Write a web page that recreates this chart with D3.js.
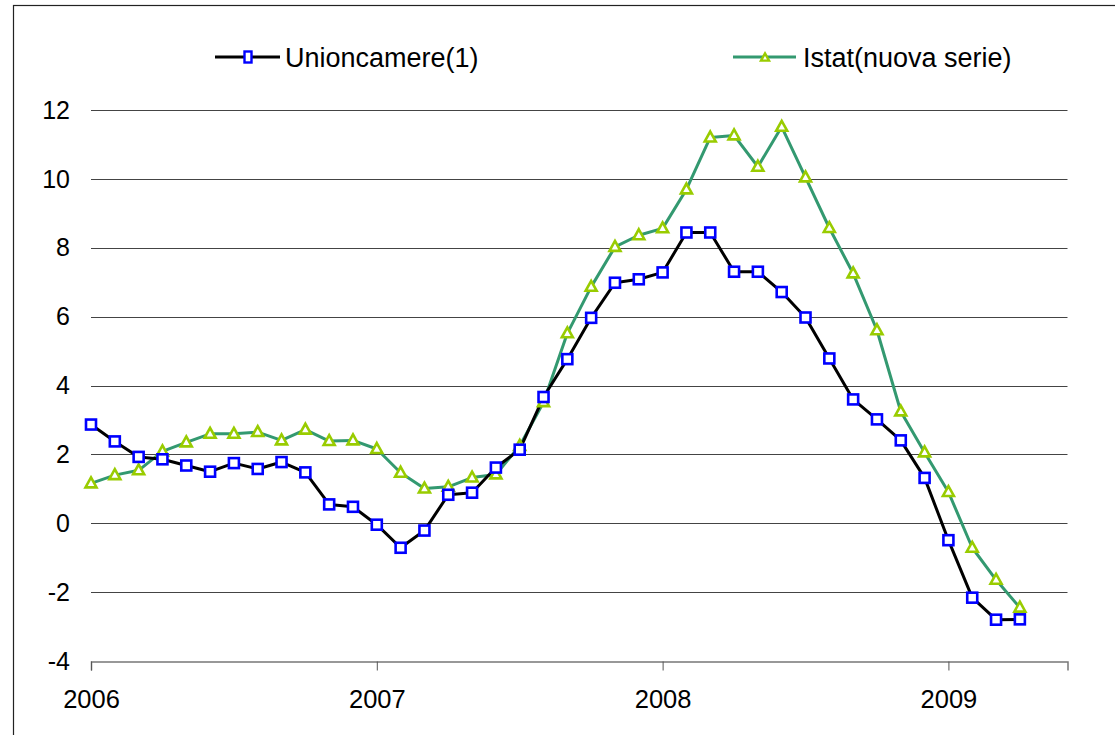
<!DOCTYPE html>
<html>
<head>
<meta charset="utf-8">
<script src="https://cdn.jsdelivr.net/npm/d3@7"></script>
<style>
  body { margin: 0; background: #fff; }
  svg { display: block; }
</style>
</head>
<body>
<div id="chart"></div>
<script>
// monthly series, Jan 2006 .. Apr 2009
const startYear = 2006;
const unioncamere = [2.87, 2.38, 1.93, 1.86, 1.68, 1.50, 1.75, 1.58, 1.78, 1.48,
  0.55, 0.48, -0.04, -0.71, -0.21, 0.83, 0.89, 1.62, 2.14, 3.67,
  4.77, 5.97, 6.99, 7.09, 7.29, 8.45, 8.45, 7.31, 7.31, 6.72,
  5.98, 4.79, 3.60, 3.02, 2.41, 1.32, -0.49, -2.16, -2.80, -2.79];
const istat = [1.16, 1.40, 1.54, 2.09, 2.35, 2.60, 2.60, 2.65, 2.41, 2.72,
  2.39, 2.41, 2.16, 1.47, 1.01, 1.06, 1.33, 1.42, 2.25, 3.52,
  5.52, 6.87, 8.03, 8.37, 8.57, 9.70, 11.21, 11.27, 10.36, 11.52,
  10.05, 8.58, 7.26, 5.61, 3.25, 2.06, 0.91, -0.71, -1.64, -2.45];
const yTicks = [-4, -2, 0, 2, 4, 6, 8, 10, 12];
const yearTicks = [2006, 2007, 2008, 2009];
const seriesNames = ['Unioncamere(1)', 'Istat(nuova serie)'];

const W = 1115, H = 735;
const FONT = 'Arial, "Liberation Sans", Helvetica, sans-serif';

const svg = d3.select('#chart').append('svg')
  .attr('width', W).attr('height', H);

svg.append('rect')
  .attr('width', W).attr('height', H).attr('fill', '#fff');

// outer frame (runs off right/bottom edge)
svg.append('rect')
  .attr('x', 13.5).attr('y', 5.5)
  .attr('width', W + 10).attr('height', H + 10)
  .attr('fill', 'none').attr('stroke', '#222').attr('stroke-width', 1.2);

const x = d3.scaleLinear().domain([0, 41]).range([91, 1067.5]);
const y = d3.scaleLinear().domain([-4, 12]).range([661, 110.3]);

// grid lines
svg.append('g')
  .selectAll('line')
  .data(yTicks.filter(d => d !== -4))
  .join('line')
  .attr('x1', x(0)).attr('x2', x(41))
  .attr('y1', d => Math.round(y(d)) + 0.5).attr('y2', d => Math.round(y(d)) + 0.5)
  .attr('stroke', '#444').attr('stroke-width', 1);

// y labels
svg.append('g')
  .selectAll('text')
  .data(yTicks)
  .join('text')
  .attr('x', 70).attr('y', d => y(d) + 8.5)
  .attr('text-anchor', 'end')
  .attr('font-family', FONT).attr('font-size', 25)
  .attr('fill', '#000')
  .text(d => d);

// x axis at -4
const xAxis = d3.axisBottom(x)
  .tickValues(yearTicks.map(yr => (yr - startYear) * 12))
  .tickSize(9)
  .tickPadding(19)
  .tickFormat(m => startYear + m / 12);

const gx = svg.append('g')
  .attr('transform', `translate(0,${Math.round(y(-4)) + 0.5})`)
  .call(xAxis);
gx.select('.domain').attr('stroke', '#777').attr('stroke-width', 1.5);
gx.selectAll('.tick line').attr('stroke', '#555');
gx.selectAll('.tick text')
  .attr('font-family', FONT).attr('font-size', 25.5).attr('fill', '#000');

const line = d3.line()
  .x((d, i) => x(i))
  .y(d => y(d));

// Istat series
svg.append('path')
  .datum(istat)
  .attr('d', line)
  .attr('fill', 'none').attr('stroke', '#339970').attr('stroke-width', 3)
  .attr('stroke-linejoin', 'round');

// Unioncamere series
svg.append('path')
  .datum(unioncamere)
  .attr('d', line)
  .attr('fill', 'none').attr('stroke', '#000').attr('stroke-width', 3)
  .attr('stroke-linejoin', 'round');

const triPath = (cx, cy, s) => {
  const h = s * 0.9;
  return `M${cx},${cy - h / 2 - 1}L${cx + s / 2},${cy + h / 2 - 1}L${cx - s / 2},${cy + h / 2 - 1}Z`;
};

svg.append('g')
  .selectAll('path')
  .data(istat)
  .join('path')
  .attr('d', (d, i) => triPath(x(i), y(d), 11))
  .attr('fill', '#fff').attr('stroke', '#99cc00').attr('stroke-width', 2.6)
  .attr('stroke-linejoin', 'miter');

svg.append('g')
  .selectAll('rect')
  .data(unioncamere)
  .join('rect')
  .attr('x', (d, i) => x(i) - 5).attr('y', d => y(d) - 5)
  .attr('width', 10).attr('height', 10)
  .attr('fill', '#fff').attr('stroke', '#0000ff').attr('stroke-width', 2.6);

// legend
const legY = 57;
const leg1 = svg.append('g');
leg1.append('line')
  .attr('x1', 215).attr('x2', 280).attr('y1', legY).attr('y2', legY)
  .attr('stroke', '#000').attr('stroke-width', 3);
leg1.append('rect')
  .attr('x', 244.5).attr('y', legY - 5.5).attr('width', 7).attr('height', 11)
  .attr('fill', '#fff').attr('stroke', '#0000ff').attr('stroke-width', 2.4);
leg1.append('text')
  .attr('x', 285).attr('y', legY + 10)
  .attr('font-family', FONT).attr('font-size', 27).attr('fill', '#000')
  .text(seriesNames[0]);

const leg2 = svg.append('g');
leg2.append('line')
  .attr('x1', 733).attr('x2', 796).attr('y1', legY).attr('y2', legY)
  .attr('stroke', '#339970').attr('stroke-width', 3);
leg2.append('path')
  .attr('d', triPath(765, legY + 1, 8))
  .attr('fill', '#fff').attr('stroke', '#99cc00').attr('stroke-width', 2.4);
leg2.append('text')
  .attr('x', 803).attr('y', legY + 10)
  .attr('font-family', FONT).attr('font-size', 27).attr('fill', '#000')
  .text(seriesNames[1]);
</script>
</body>
</html>
